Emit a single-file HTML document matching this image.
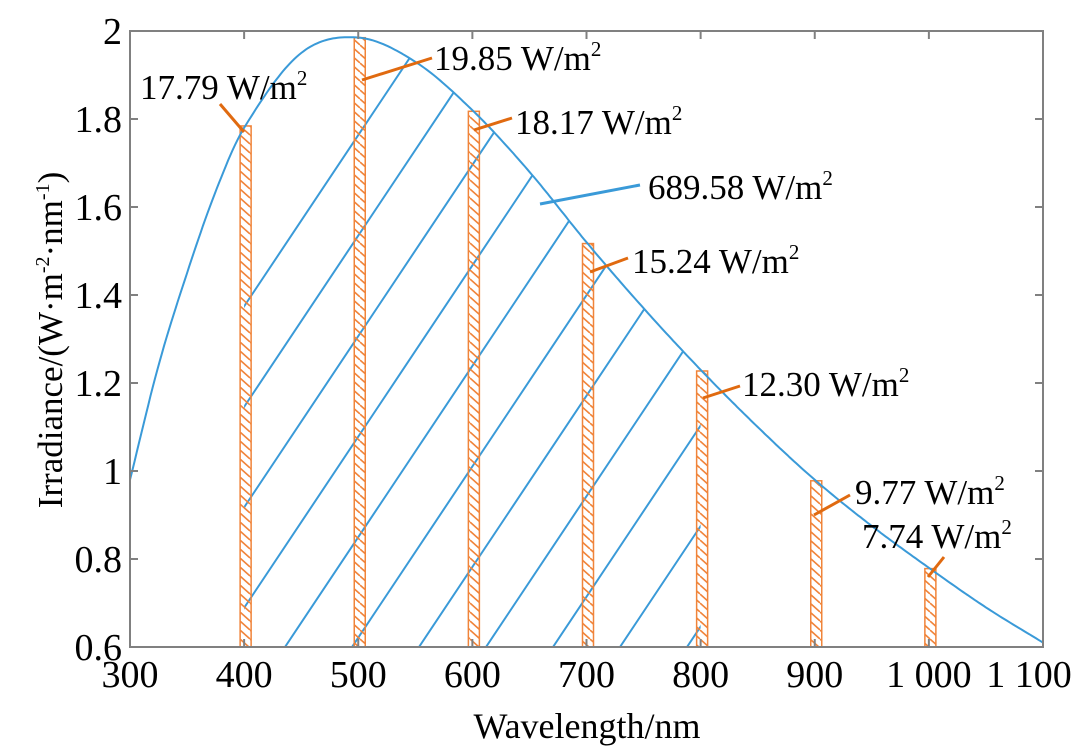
<!DOCTYPE html>
<html><head><meta charset="utf-8"><style>
body{margin:0;background:#fff}
svg text{font-family:"Liberation Serif",serif;fill:#000}
</style></head><body>
<svg id="chart" width="1080" height="748" viewBox="0 0 1080 748" xmlns="http://www.w3.org/2000/svg">
<defs>
<pattern id="orangeHatch" patternUnits="userSpaceOnUse" width="10" height="9">
<line x1="0" y1="0" x2="10" y2="9" stroke="#f0843a" stroke-width="1.6"/>
<line x1="-10" y1="0" x2="0" y2="9" stroke="#f0843a" stroke-width="1.6"/>
<line x1="10" y1="0" x2="20" y2="9" stroke="#f0843a" stroke-width="1.6"/>
</pattern>
<clipPath id="areaClip"><path id="areaClipPath" d=""/></clipPath>
</defs>
<g id="hatch" clip-path="url(#areaClip)"></g>
<g id="bars"></g>
<path id="curve" fill="none" stroke="#3a9ad8" stroke-width="2"/>
<g id="axes"></g>
<g id="labels"></g>
<text x="587" y="738" font-size="36" text-anchor="middle">Wavelength/nm</text>
<text transform="translate(62,340) rotate(-90)" font-size="35" text-anchor="middle">Irradiance/(W·m<tspan font-size="20" dy="-13">-2</tspan><tspan dy="13">·nm</tspan><tspan font-size="20" dy="-13">-1</tspan><tspan dy="13">)</tspan></text>
</svg>
<script>
const wavelengths=[300,325,350,375,400,450,500,550,600,650,700,750,800,850,900,950,1000,1050,1100];
const irradiance=[0.98,1.24,1.45,1.635,1.78,1.95,1.985,1.93,1.82,1.68,1.52,1.37,1.23,1.10,0.98,0.875,0.78,0.69,0.61];
const bandCenters=[400,500,600,700,800,900,1000];
const bandLabels=["17.79 W/m","19.85 W/m","18.17 W/m","15.24 W/m","12.30 W/m","9.77 W/m","7.74 W/m"];
const xTicks=[300,400,500,600,700,800,900,1000,1100];
const xTickLabels=["300","400","500","600","700","800","900","1 000","1 100"];
const yTicks=[0.6,0.8,1,1.2,1.4,1.6,1.8,2];
const yTickLabels=["0.6","0.8","1","1.2","1.4","1.6","1.8","2"];
const areaRange=[400,800];
const totalLabel="689.58 W/m";

const X0=130,X1=1043,Y0=647,Y1=31;
const xs=v=>X0+(v-300)/800*(X1-X0);
const ys=v=>Y0-(v-0.6)/1.4*(Y0-Y1);
const NS="http://www.w3.org/2000/svg";
function mk(t,a,p){const e=document.createElementNS(NS,t);for(const k in a)e.setAttribute(k,a[k]);p.appendChild(e);return e;}
function val(w){
  let i=0;while(i<wavelengths.length-2&&w>wavelengths[i+1])i++;
  const h=wavelengths[i+1]-wavelengths[i];
  const t=(w-wavelengths[i])/h;
  const slope=k=>{
    if(k<=0)return (irradiance[1]-irradiance[0])/(wavelengths[1]-wavelengths[0]);
    if(k>=wavelengths.length-1){const n=wavelengths.length-1;return (irradiance[n]-irradiance[n-1])/(wavelengths[n]-wavelengths[n-1]);}
    return (irradiance[k+1]-irradiance[k-1])/(wavelengths[k+1]-wavelengths[k-1]);
  };
  const m0=slope(i)*h,m1=slope(i+1)*h,p0=irradiance[i],p1=irradiance[i+1];
  const t2=t*t,t3=t2*t;
  return (2*t3-3*t2+1)*p0+(t3-2*t2+t)*m0+(-2*t3+3*t2)*p1+(t3-t2)*m1;
}
let d="";
for(let w=300;w<=1100;w+=2){d+=(w==300?"M":"L")+xs(w).toFixed(1)+","+ys(val(w)).toFixed(1);}
document.getElementById('curve').setAttribute('d',d);
let a="M"+xs(areaRange[0])+","+Y0;
for(let w=areaRange[0];w<=areaRange[1];w+=2)a+="L"+xs(w).toFixed(1)+","+ys(val(w)).toFixed(1);
a+="L"+xs(areaRange[1])+","+Y0+"Z";
document.getElementById('areaClipPath').setAttribute('d',a);
const hatch=document.getElementById('hatch');
for(let bx=285-67*4;bx<1000;bx+=67){
  const l=mk('line',{x1:bx,y1:Y0,x2:bx+620/1.5,y2:Y0-620,stroke:'#3a9ad8','stroke-width':2},hatch);
  
  
}
const bars=document.getElementById('bars');
bandCenters.forEach(c=>{
  const x=xs(c)-4,w=11,top=ys(val(c+1));
  const r=mk('rect',{x:x,y:top,width:w,height:Y0-top,fill:'url(#orangeHatch)',stroke:'#f0843a','stroke-width':1.5},bars);
  
  
});
const ax=document.getElementById('axes');
mk('rect',{x:X0,y:Y1,width:X1-X0,height:Y0-Y1,fill:'none',stroke:'#808080','stroke-width':2},ax);
xTicks.forEach((t,i)=>{
  const x=xs(t);
  mk('line',{x1:x,y1:Y0,x2:x,y2:Y0-8,stroke:'#808080','stroke-width':2},ax);
  mk('line',{x1:x,y1:Y1,x2:x,y2:Y1+8,stroke:'#808080','stroke-width':2},ax);
  const tx=mk('text',{x:(i==xTicks.length-1?x-14:x),y:Y0+40,'font-size':38,'text-anchor':'middle'},ax);
  tx.textContent=xTickLabels[i];
  
  
});
yTicks.forEach((t,i)=>{
  const y=ys(t);
  mk('line',{x1:X0,y1:y,x2:X0+8,y2:y,stroke:'#808080','stroke-width':2},ax);
  mk('line',{x1:X1,y1:y,x2:X1-8,y2:y,stroke:'#808080','stroke-width':2},ax);
  const tx=mk('text',{x:X0-8,y:y+13,'font-size':38,'text-anchor':'end'},ax);
  tx.textContent=yTickLabels[i];
  
  
});
const lab=document.getElementById('labels');
const ann=[[244,132,220,104,140,99],[362,80,432,58,434,70],[474,130,512,118,515,134],[590,272,628,258,632,273],[703,398,740,386,742,396],[814,515,850,495,855,504],[928,577,944,557,862,548]];
bandCenters.forEach((c,i)=>{
  const o=ann[i];
  const l=mk('line',{x1:o[0],y1:o[1],x2:o[2],y2:o[3],stroke:'#e06a10','stroke-width':3},lab);
  
  
  const t=mk('text',{x:o[4],y:o[5],'font-size':35},lab);
  t.innerHTML=bandLabels[i]+'<tspan font-size="21" dy="-14">2</tspan>';
  
  
});
const tl=mk('line',{x1:540,y1:204,x2:640,y2:185,stroke:'#3a9ad8','stroke-width':3},lab);


const tt=mk('text',{x:648,y:199,'font-size':35},lab);
tt.innerHTML=totalLabel+'<tspan font-size="21" dy="-14">2</tspan>';


</script>
</body></html>
